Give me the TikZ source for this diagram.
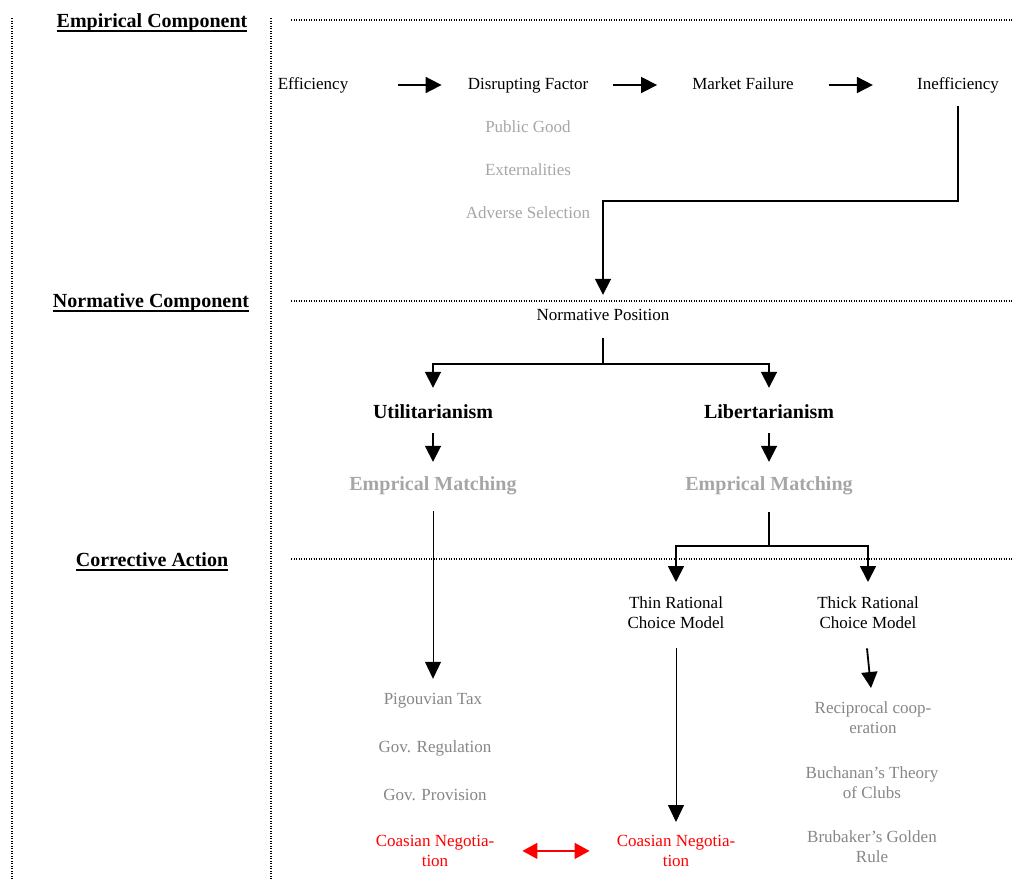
\documentclass[tikz,border=0pt]{standalone}
\usepackage{fontspec}
\setmainfont{Liberation Serif}
\usetikzlibrary{arrows.meta}
\definecolor{lgray}{HTML}{A6A6A6}
\definecolor{mgray}{HTML}{868686}
\definecolor{redc}{HTML}{FF0000}
\newcommand\headul[1]{\setbox0\hbox{#1}\rlap{\copy0}\rule[-4.5pt]{\wd0}{1.6pt}}
\begin{document}
\begin{tikzpicture}[x=1pt,y=-1pt,
  lbl/.style={inner sep=0pt, font=\fontsize{17}{20}\selectfont, text height=12pt, text depth=4pt},
  mlbl/.style={inner sep=0pt, font=\fontsize{17}{20}\selectfont, align=center, anchor=north},
  bld/.style={inner sep=0pt, font=\fontsize{20}{24}\selectfont\bfseries, text height=14pt, text depth=5pt},
  dots/.style={line width=1.2pt, dash pattern=on 1.2pt off 1.3pt},
  arr/.style={line width=1.8pt, -{Triangle[length=16pt,width=16pt]}},
  thinarr/.style={line width=1pt, -{Triangle[length=17pt,width=16pt]}},
  redarr/.style={redc, line width=1.6pt, {Triangle[length=15pt,width=16pt]}-{Triangle[length=15pt,width=16pt]}},
  tline/.style={line width=1.8pt}]
\useasboundingbox (0,0) rectangle (1013,879);

% dotted frame lines
\draw[dots] (12,18) -- (12,879);
\draw[dots] (271,18) -- (271,879);
\draw[dots] (291,20) -- (1013,20);
\draw[dots] (291,301) -- (1013,301);
\draw[dots] (291,559) -- (1013,559);

% headings
\node[bld] (hemp) at (152,23) {\headul{Empirical Component}};
\node[bld] (hnorm) at (151,303) {\headul{Normative Component}};
\node[bld] (hcorr) at (152,562) {\headul{Corrective Action}};

% empirical row
\node[lbl] (eff) at (313,85) {Efficiency};
\node[lbl] (disr) at (528,85) {Disrupting Factor};
\node[lbl] (mf) at (743,85) {Market Failure};
\node[lbl] (ineff) at (958,85) {Inefficiency};
\node[lbl, text=lgray] (pg) at (528,128) {Public Good};
\node[lbl, text=lgray] (ext) at (528,171) {Externalities};
\node[lbl, text=lgray] (adv) at (528,214) {Adverse Selection};

\draw[arr] ([xshift=50pt]eff.east) -- ([xshift=-26pt]disr.west);
\draw[arr] ([xshift=25pt]disr.east) -- ([xshift=-35pt]mf.west);
\draw[arr] ([xshift=35pt]mf.east) -- ([xshift=-44pt]ineff.west);

% normative
\node[lbl] (np) at (603,316) {Normative Position};
\coordinate (h1) at (0,201);
\draw[arr, shorten >=13pt] ([yshift=-13pt]ineff.south) -- (ineff.south |- h1) -| (np.north);

\node[bld] (util) at (433,414) {Utilitarianism};
\node[bld] (lib) at (769,414) {Libertarianism};
\node[bld, text=lgray] (em1) at (433,486) {Emprical Matching};
\node[bld, text=lgray] (em2) at (769,486) {Emprical Matching};

\coordinate (h2) at (0,364);
\draw[tline] ([yshift=-14pt]np.south) -- (np.south |- h2);
\draw[arr, shorten >=16.5pt] (np.south |- h2) -| (util.north);
\draw[arr, shorten >=16.5pt] (np.south |- h2) -| (lib.north);
\draw[arr, shorten >=14.5pt] ([yshift=-9.5pt]util.south) -- (em1.north);
\draw[arr, shorten >=14.5pt] ([yshift=-9.5pt]lib.south) -- (em2.north);

% corrective
\node[lbl, text=mgray] (pig) at (433,700) {Pigouvian Tax};
\node[lbl, text=mgray] (gr) at (435,748) {Gov. Regulation};
\node[lbl, text=mgray] (gp) at (435,796) {Gov. Provision};
\node[mlbl, text=redc] (coas1) at (435,835) {Coasian Negotia-\\tion};

\node[mlbl] (thin) at (676,596) {Thin Rational\\Choice Model};
\node[mlbl] (thick) at (868,596) {Thick Rational\\Choice Model};
\node[mlbl, text=redc] (coas2) at (676,835) {Coasian Negotia-\\tion};
\node[mlbl, text=mgray] (recip) at (873,701) {Reciprocal coop-\\eration};
\node[mlbl, text=mgray] (buch) at (872,766) {Buchanan’s Theory\\of Clubs};
\node[mlbl, text=mgray] (bru) at (872,830) {Brubaker’s Golden\\Rule};

\draw[thinarr, shorten >=13pt] ([yshift=-15.5pt]em1.south) -- (pig.north);

\coordinate (h3) at (0,546);
\draw[tline] ([yshift=-16.5pt]em2.south) -- (em2.south |- h3);
\draw[arr, shorten >=14pt] (em2.south |- h3) -| (thin.north);
\draw[arr, shorten >=14pt] (em2.south |- h3) -| (thick.north);

\draw[thinarr, shorten >=13pt] ([yshift=-20pt]thin.south) -- (coas2.north);
\draw[arr] ([xshift=-1pt,yshift=-20pt]thick.south) -- ([xshift=-2pt,yshift=13pt]recip.north);

\draw[redarr, shorten <=28pt, shorten >=27pt] (coas1.east) -- (coas2.west);
\end{tikzpicture}
\end{document}
